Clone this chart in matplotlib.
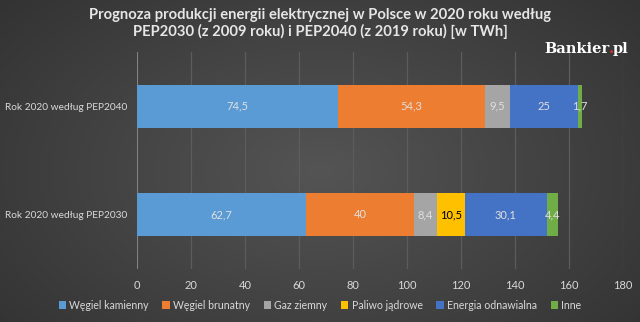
import numpy as np
import matplotlib
matplotlib.use("Agg")
import matplotlib.pyplot as plt

categories = ["Rok 2020 według PEP2030", "Rok 2020 według PEP2040"]
series_names = ["Węgiel kamienny", "Węgiel brunatny", "Gaz ziemny", "Paliwo jądrowe",
                "Energia odnawialna", "Inne"]
values_pep2030 = [62.7, 40, 8.4, 10.5, 30.1, 4.4]
values_pep2040 = [74.5, 54.3, 9.5, 0, 25, 1.7]
colors = ["#5b9bd5", "#ed7d31", "#a5a5a5", "#ffc000", "#4472c4", "#70ad47"]
label_colors = ["#e0e0e0", "#e0e0e0", "#e0e0e0", "#000000", "#e0e0e0", "#e0e0e0"]
xticks = [0, 20, 40, 60, 80, 100, 120, 140, 160, 180]

def fmt(v):
    return ("%g" % v).replace(".", ",")

fig = plt.figure(figsize=(6.4, 3.22), dpi=100)

# background gradient
bg = fig.add_axes([0, 0, 1, 1], zorder=-10)
yy, xx = np.mgrid[0:322, 0:640]
r = np.sqrt(((xx - 320) / 420.0) ** 2 + ((yy - 170) / 260.0) ** 2)
val = 0.33 - 0.13 * np.clip(r, 0, 1.3)
img = np.dstack([val, val, val])
bg.imshow(img, aspect="auto", extent=[0, 1, 0, 1])
bg.axis("off")

ax = fig.add_axes([0.2141, 0.1646, 0.9734 - 0.2141, 0.8385 - 0.1646])
ax.set_facecolor("none")
data = [values_pep2030, values_pep2040]
ypos = np.arange(len(categories))
for i in range(len(series_names)):
    lefts = [sum(d[:i]) for d in data]
    widths = [d[i] for d in data]
    ax.barh(ypos, widths, left=lefts, height=0.4, color=colors[i],
            label=series_names[i], zorder=3)
    for y, l, w in zip(ypos, lefts, widths):
        if w > 0:
            ax.text(l + w / 2, y, fmt(w), ha="center", va="center",
                    fontsize=8, color=label_colors[i], family="Lato", zorder=4)

ax.set_xlim(0, 180)
ax.set_ylim(-0.5, 1.5)
ax.set_xticks(xticks)
ax.set_xticklabels([str(t) for t in xticks])
ax.set_yticks(ypos)
ax.set_yticklabels(categories)
ax.grid(axis="x", color="#5c5c5c", linewidth=0.9, zorder=0)
ax.axvline(0, color="#8a8a8a", linewidth=1.2, zorder=2)
for s in ax.spines.values():
    s.set_visible(False)
ax.tick_params(axis="both", length=0, colors="#d9d9d9")
ax.tick_params(axis="x", labelsize=8, pad=8)
ax.tick_params(axis="y", labelsize=7.3, pad=7)
for lbl in ax.get_xticklabels() + ax.get_yticklabels():
    lbl.set_family("Lato")

fig.text(0.5, 0.953, "Prognoza produkcji energii elektrycznej w Polsce w 2020 roku według",
         ha="center", va="center", fontsize=10.6, fontweight="bold", color="#e6e6e6", family="Lato")
fig.text(0.5, 0.903, "PEP2030 (z 2009 roku) i PEP2040 (z 2019 roku) [w TWh]",
         ha="center", va="center", fontsize=10.6, fontweight="bold", color="#e6e6e6", family="Lato")

# logo
fig.canvas.draw()
rend = fig.canvas.get_renderer()
x0 = 0.851
t1 = fig.text(x0, 0.847, "Bankier", ha="left", va="center", fontsize=10.5, fontweight="bold",
              color="white", family="DejaVu Serif")
bb = t1.get_window_extent(rend).transformed(fig.transFigure.inverted())
t2 = fig.text(bb.x1 - 0.001, 0.847, ".", ha="left", va="center", fontsize=10.5, fontweight="bold",
              color="#e0302a", family="DejaVu Serif")
bb2 = t2.get_window_extent(rend).transformed(fig.transFigure.inverted())
fig.text(bb2.x1 - 0.002, 0.847, "pl", ha="left", va="center", fontsize=10.5, fontweight="bold",
         color="white", family="DejaVu Serif")

handles, labels = ax.get_legend_handles_labels()
leg = fig.legend(handles, labels, loc="center", bbox_to_anchor=(0.5, 0.052), ncol=6,
                 frameon=False, handlelength=0.7, handleheight=0.7,
                 handletextpad=0.3, columnspacing=1.3, labelcolor="#d9d9d9",
                 prop={"family": "Lato", "size": 7.6})

fig.savefig("out.png", dpi=100)
